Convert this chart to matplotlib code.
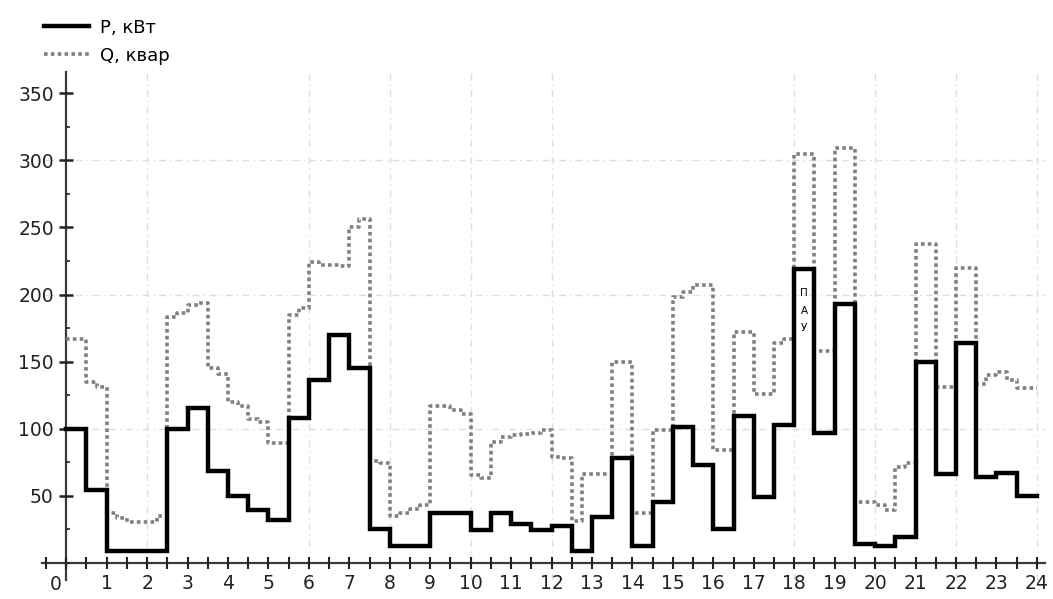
import numpy as np
import matplotlib
matplotlib.use("Agg")
import matplotlib.pyplot as plt
from matplotlib.ticker import MultipleLocator

# Active power P, kW — half-hour intervals (0:00 .. 24:00)
P_kw = [100, 54, 9, 9, 9, 100, 115, 68, 50, 39, 32, 108,
        136, 170, 145, 25, 12, 12, 37, 37, 24, 37, 29, 24,
        27, 9, 34, 78, 12, 45, 101, 73, 25, 109, 49, 103,
        219, 97, 193, 14, 12, 19, 150, 66, 164, 64, 67, 50]

# Reactive power Q, kvar — quarter-hour intervals
Q_kvar = [167, 167, 135, 131,  37, 33, 30, 30,  30, 35, 183, 186,
          192, 194, 145, 141,  120, 117, 107, 105,  89, 89, 185, 190,
          224, 222, 222, 221,  250, 256, 76, 74,  35, 37, 40, 43,
          117, 117, 114, 111,  65, 63, 90, 94,  95, 96, 97, 99,
          79, 78, 31, 66,  66, 66, 150, 150,  37, 37, 99, 99,
          198, 202, 207, 207,  84, 84, 172, 172,  126, 126, 164, 167,
          305, 305, 158, 158,  309, 309, 45, 45,  43, 39, 71, 74,
          238, 238, 131, 131,  220, 220, 133, 140,  142, 136, 130, 130]

x_ticks = list(range(1, 25))
y_ticks = [50, 100, 150, 200, 250, 300, 350]
grid_hours = [2, 6, 8, 10, 12, 18, 20, 22, 24]
grid_values = [100, 200, 300]

labels = ["P, кВт", "Q, квар"]
note = "П\nА\nУ"

plt.rcParams['font.family'] = ['DejaVu Sans']

fig = plt.figure(figsize=(10.53, 5.99), dpi=100)
ax = fig.add_axes([42/1053, 1-580/599, (1045-42)/1053, (580-72)/599])
ax.set_xlim(-0.6, 24.2)
ax.set_ylim(-13, 366)

# grid
for g in grid_hours:
    ax.axvline(g, color='#dedede', lw=1.0, ls=(0, (5, 3, 1, 3)), zorder=0)
for g in grid_values:
    ax.axhline(g, color='#dedede', lw=1.0, ls=(0, (5, 3, 1, 3)), zorder=0)

# step data
xp = np.arange(len(P_kw) + 1) * (24 / len(P_kw))
yp = list(P_kw) + [P_kw[-1]]
xq = np.arange(len(Q_kvar) + 1) * (24 / len(Q_kvar))
yq = list(Q_kvar) + [Q_kvar[-1]]

lq, = ax.step(xq, yq, where='post', color='#808080', lw=2.6,
              ls=(0, (1, 0.9)), zorder=2, label=labels[1])
lp, = ax.step(xp, yp, where='post', color='black', lw=3.2,
              zorder=3, label=labels[0], solid_joinstyle='miter')

ax.text(18.25, 188, note, ha='center', va='center', fontsize=7.5,
        linespacing=1.9, color='black', zorder=4)

# spines crossing at zero
for s in ['top', 'right']:
    ax.spines[s].set_visible(False)
ax.spines['left'].set_position(('data', 0))
ax.spines['bottom'].set_position(('data', 0))
for s in ['left', 'bottom']:
    ax.spines[s].set_color('#3a3a3a')
    ax.spines[s].set_linewidth(1.6)
    ax.spines[s].set_zorder(1)

ax.set_xticks(x_ticks)
ax.set_xticklabels([str(t) for t in x_ticks])
ax.xaxis.set_minor_locator(MultipleLocator(0.5))
ax.set_yticks(y_ticks)
ax.set_yticklabels([str(t) for t in y_ticks])
ax.yaxis.set_minor_locator(MultipleLocator(25))

ax.tick_params(axis='x', which='both', direction='inout', length=9, width=1.5,
               color='#222222', labelsize=13.5, pad=4, labelcolor='#222222')
ax.tick_params(axis='y', which='major', direction='inout', length=10, width=1.8,
               color='#222222', labelsize=13.5, pad=4, labelcolor='#222222')
ax.tick_params(axis='y', which='minor', direction='in', length=3, width=1.2,
               color='#222222')

ax.text(-0.25, -9, "0", ha='center', va='top', fontsize=13.5, color='#222222')

fig.legend(handles=[lp, lq], labels=labels, loc='upper left',
           bbox_to_anchor=(40/1053, 1-15/599), frameon=False, fontsize=13,
           handlelength=2.5, handletextpad=0.6, labelspacing=0.55,
           borderaxespad=0, borderpad=0.2)

fig.savefig("out.png", dpi=100)
